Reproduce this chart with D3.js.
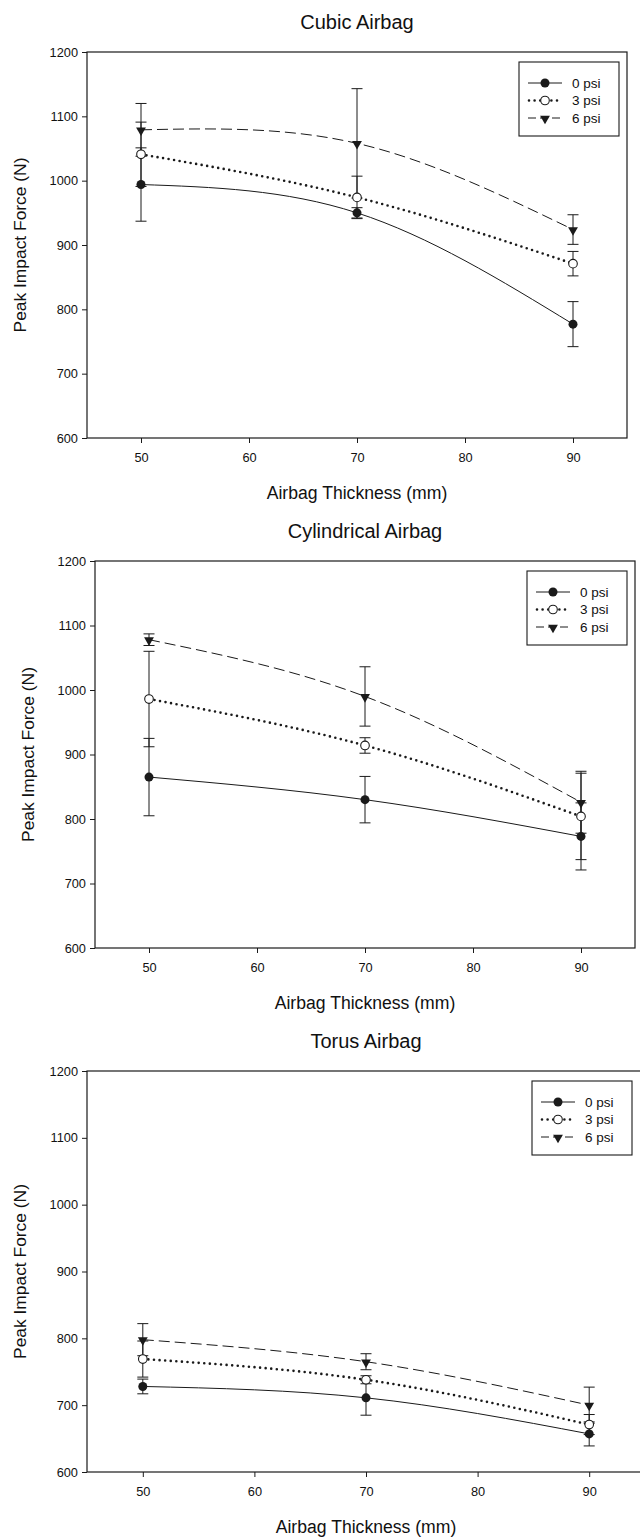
<!DOCTYPE html>
<html>
<head>
<meta charset="utf-8">
<script src="https://cdn.jsdelivr.net/npm/d3@7"></script>
<style>
  body { margin: 0; background: #fff; }
  svg text { font-family: "Liberation Sans", Arial, sans-serif; fill: #111; }
</style>
</head>
<body>
<script>
// values
const thickness = [50, 70, 90];
const seriesNames = ["0 psi", "3 psi", "6 psi"];
const panelTitles = ["Cubic Airbag", "Cylindrical Airbag", "Torus Airbag"];
const xTicks = [50, 60, 70, 80, 90];
const yTicks = [600, 700, 800, 900, 1000, 1100, 1200];

// mean peak force (N) and error bar half width, per pressure
const cubic0 = [994, 950, 777], cubic0Err = [57, 8, 35];
const cubic3 = [1041, 974, 871], cubic3Err = [50, 33, 19];
const cubic6 = [1079, 1058, 924], cubic6Err = [41, 85, 23];
const cyl0 = [865, 830, 773], cyl0Err = [60, 36, 52];
const cyl3 = [986, 914, 804], cyl3Err = [74, 12, 67];
const cyl6 = [1078, 990, 826], cyl6Err = [9, 46, 48];
const torus0 = [728, 711, 657], torus0Err = [11, 26, 18];
const torus3 = [769, 738, 671], torus3Err = [27, 6, 15];
const torus6 = [798, 765, 700], torus6Err = [24, 12, 27];

const panelMeans = [[cubic0, cubic3, cubic6], [cyl0, cyl3, cyl6], [torus0, torus3, torus6]];
const panelErrs = [[cubic0Err, cubic3Err, cubic6Err], [cyl0Err, cyl3Err, cyl6Err], [torus0Err, torus3Err, torus6Err]];

// plot frames on the page
const frames = [
    {left: 87, right: 627, top: 52, bottom: 438},
    {left: 95, right: 635, top: 561, bottom: 948},
    {left: 87, right: 645, top: 1071, bottom: 1472}
];

const ink = "#1a1a1a";
const lineStyle = [
    {width: 1, dash: null, cap: "butt"},
    {width: 2.6, dash: "0 5.6", cap: "round"},
    {width: 1, dash: "11 5", cap: "butt"}
];

const svg = d3.select("body").append("svg")
    .attr("width", 640)
    .attr("height", 1540);

function drawMarker(g, kind, x, y) {
    if (kind == 0) {
        g.append("circle").attr("cx", x).attr("cy", y).attr("r", 4.5).attr("fill", ink);
    } else if (kind == 1) {
        g.append("circle").attr("cx", x).attr("cy", y).attr("r", 4.3)
            .attr("fill", "#fff").attr("stroke", ink).attr("stroke-width", 1.1);
    } else {
        g.append("path")
            .attr("d", d3.symbol(d3.symbolTriangle, 42)())
            .attr("transform", "translate(" + x + "," + (y + 0.5) + ") rotate(180)")
            .attr("fill", ink);
    }
}

frames.forEach(function(f, pi) {
    const x = d3.scaleLinear().domain([45, 95]).range([f.left, f.right]);
    const y = d3.scaleLinear().domain([600, 1200]).range([f.bottom, f.top]);
    const g = svg.append("g");

    // title
    g.append("text")
        .attr("x", (f.left + f.right) / 2)
        .attr("y", f.top - 23)
        .attr("text-anchor", "middle")
        .attr("font-size", "20px")
        .text(panelTitles[pi]);

    // axes
    const yAxis = g.append("g")
        .attr("transform", "translate(" + f.left + ",0)")
        .call(d3.axisLeft(y).tickValues(yTicks).tickFormat(d3.format("d"))
            .tickSize(5).tickPadding(4).tickSizeOuter(0));
    const xAxis = g.append("g")
        .attr("transform", "translate(0," + f.bottom + ")")
        .call(d3.axisBottom(x).tickValues(xTicks).tickFormat(d3.format("d"))
            .tickSize(5).tickPadding(10).tickSizeOuter(0));
    [yAxis, xAxis].forEach(function(a) {
        a.select(".domain").remove();
        a.selectAll("line").attr("stroke", ink);
        a.selectAll("text").attr("font-size", "12.8px").attr("fill", ink)
            .attr("font-family", "Liberation Sans, Arial, sans-serif");
    });

    // frame
    g.append("rect")
        .attr("x", f.left).attr("y", f.top)
        .attr("width", f.right - f.left).attr("height", f.bottom - f.top)
        .attr("fill", "none").attr("stroke", ink).attr("stroke-width", 1.2);

    // axis titles
    g.append("text")
        .attr("x", (f.left + f.right) / 2)
        .attr("y", f.bottom + 61)
        .attr("text-anchor", "middle")
        .attr("font-size", "17.6px")
        .text("Airbag Thickness (mm)");
    g.append("text")
        .attr("transform", "translate(" + (f.left - 61) + "," + ((f.top + f.bottom) / 2) + ") rotate(-90)")
        .attr("text-anchor", "middle")
        .attr("font-size", "17.4px")
        .text("Peak Impact Force (N)");

    const means = panelMeans[pi];
    const errs = panelErrs[pi];

    // spline lines through the means
    const line = d3.line()
        .x((d, i) => x(thickness[i]))
        .y(d => y(d))
        .curve(d3.curveNatural);

    means.forEach(function(vals, si) {
        const st = lineStyle[si];
        g.append("path")
            .attr("d", line(vals))
            .attr("fill", "none")
            .attr("stroke", ink)
            .attr("stroke-width", st.width)
            .attr("stroke-linecap", st.cap)
            .attr("stroke-dasharray", st.dash);
    });

    // error bars
    means.forEach(function(vals, si) {
        thickness.forEach(function(t, i) {
            const cx = x(t), lo = y(vals[i] - errs[si][i]), hi = y(vals[i] + errs[si][i]);
            g.append("line").attr("x1", cx).attr("x2", cx).attr("y1", lo).attr("y2", hi)
                .attr("stroke", ink).attr("stroke-width", 1);
            [lo, hi].forEach(function(yy) {
                g.append("line").attr("x1", cx - 5.5).attr("x2", cx + 5.5).attr("y1", yy).attr("y2", yy)
                    .attr("stroke", ink).attr("stroke-width", 1);
            });
        });
    });

    // markers
    means.forEach(function(vals, si) {
        thickness.forEach(function(t, i) {
            drawMarker(g, si, x(t), y(vals[i]));
        });
    });

    // legend
    const lx = Math.min(f.right, 640) - 108, ly = f.top + 10;
    const leg = g.append("g").attr("transform", "translate(" + lx + "," + ly + ")");
    leg.append("rect").attr("width", 100).attr("height", 74)
        .attr("fill", "#fff").attr("stroke", ink).attr("stroke-width", 1.1);
    seriesNames.forEach(function(name, si) {
        const ry = 21 + si * 17.5;
        const st = lineStyle[si];
        leg.append("line")
            .attr("x1", si == 1 ? 10 : 9).attr("x2", 43).attr("y1", ry).attr("y2", ry)
            .attr("stroke", ink)
            .attr("stroke-width", st.width)
            .attr("stroke-linecap", st.cap)
            .attr("stroke-dasharray", si == 2 ? "8 4" : st.dash);
        drawMarker(leg, si, 26, ry);
        leg.append("text")
            .attr("x", 53).attr("y", ry).attr("dy", "0.36em")
            .attr("font-size", "13.5px")
            .text(name);
    });
});
</script>
</body>
</html>
